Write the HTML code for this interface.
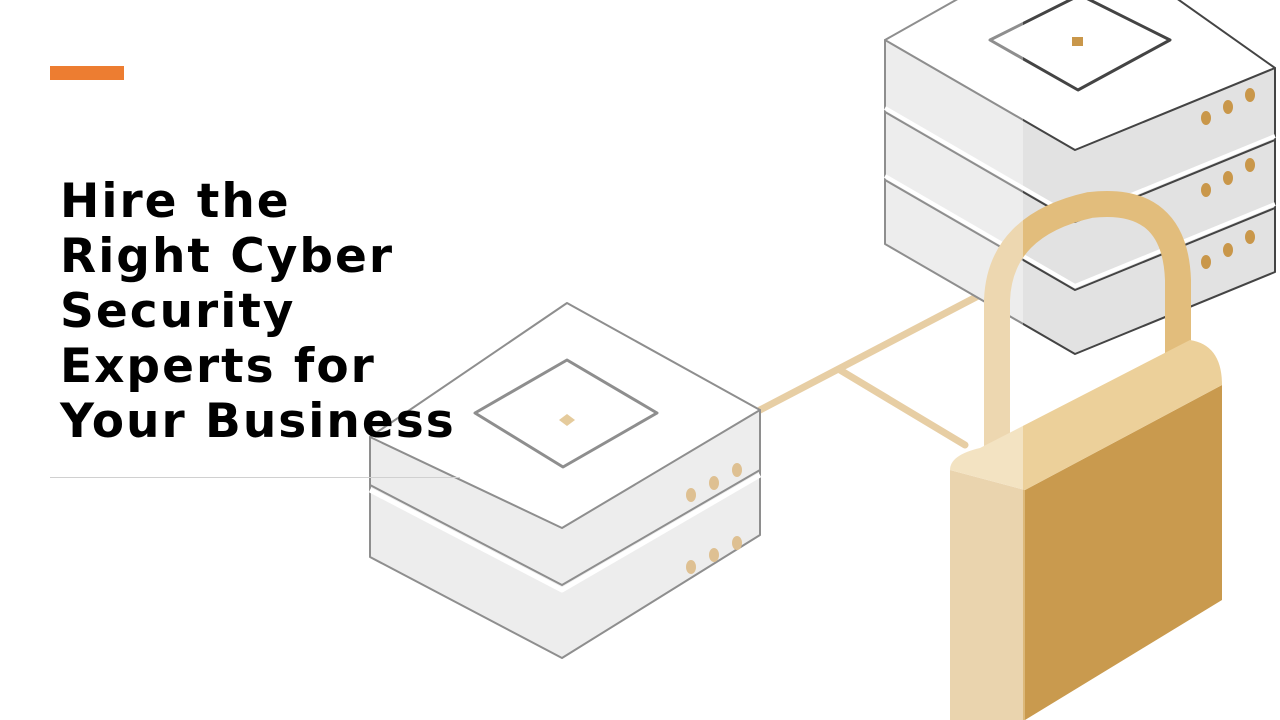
<!DOCTYPE html>
<html><head><style>
html,body{margin:0;padding:0;width:1280px;height:720px;overflow:hidden;background:#fff}
svg{position:absolute;left:0;top:0}
.t{position:absolute;left:60px;top:174px;font-family:"DejaVu Sans","Liberation Sans",sans-serif;font-weight:bold;font-size:47px;letter-spacing:2px;line-height:55px;color:#000;margin:0}
.bar{position:absolute;left:50px;top:66px;width:74px;height:14px;background:#ed7d31}
.rule{position:absolute;left:50px;top:477px;width:410px;height:1px;background:#d0d0d0}
</style></head><body>
<svg width="1280" height="720" viewBox="0 0 1280 720">
<g stroke="#444" stroke-width="2" stroke-linejoin="round">
<g stroke="#d7ad68" stroke-width="7" fill="none" stroke-linecap="round">
<line x1="760" y1="410" x2="980" y2="295"/>
<line x1="840" y1="370" x2="965" y2="445"/>
</g>
<path d="M885 40 L885 244 L1075 354 L1275 272 L1275 68 Z" fill="#e2e2e2"/>
<path d="M885 108 L1075 218 L1275 136" fill="none" stroke="#fff" stroke-width="4"/>
<path d="M885 112 L1075 222 L1275 140" fill="none"/>
<path d="M885 176 L1075 286 L1275 204" fill="none" stroke="#fff" stroke-width="4"/>
<path d="M885 180 L1075 290 L1275 208" fill="none"/>
<path d="M885 40 L1080 -70 L1275 68 L1075 150 Z" fill="#fff"/>
<path d="M990 40 L1080 -5 L1170 40 L1078 90 Z" fill="#fff" stroke-width="3"/>
<rect x="1072" y="37" width="11" height="9" fill="#c9974a" stroke="none"/>
<path d="M370 437 L370 557 L562 658 L760 535 L760 410 Z" fill="#e2e2e2"/>
<path d="M370 490 L562 590 L760 475" fill="none" stroke="#fff" stroke-width="5"/>
<path d="M370 485 L562 585 L760 470" fill="none"/>
<path d="M370 437 L567 303 L760 410 L562 528 Z" fill="#fff"/>
<path d="M475 413 L567 360 L657 413 L563 467 Z" fill="#fff" stroke-width="3"/>
<path d="M567 414 L575 420 L567 426 L559 420 Z" fill="#d4a85a" stroke="none"/>
</g>
<g fill="#c9974a">
<ellipse cx="691" cy="495" rx="5" ry="7"/><ellipse cx="714" cy="483" rx="5" ry="7"/><ellipse cx="737" cy="470" rx="5" ry="7"/>
<ellipse cx="691" cy="567" rx="5" ry="7"/><ellipse cx="714" cy="555" rx="5" ry="7"/><ellipse cx="737" cy="543" rx="5" ry="7"/>
<ellipse cx="1206" cy="118" rx="5" ry="7"/><ellipse cx="1228" cy="107" rx="5" ry="7"/><ellipse cx="1250" cy="95" rx="5" ry="7"/>
<ellipse cx="1206" cy="190" rx="5" ry="7"/><ellipse cx="1228" cy="178" rx="5" ry="7"/><ellipse cx="1250" cy="165" rx="5" ry="7"/>
<ellipse cx="1206" cy="262" rx="5" ry="7"/><ellipse cx="1228" cy="250" rx="5" ry="7"/><ellipse cx="1250" cy="237" rx="5" ry="7"/>
</g>
<path d="M997 465 L997 300 Q1000 225 1090 205 Q1175 195 1178 280 L1178 365" fill="none" stroke="#e2bd7c" stroke-width="26" stroke-linecap="round"/>
<path d="M950 470 L1025 490 L1025 720 L950 720 Z" fill="#dcb879"/>
<path d="M1025 490 L1222 385 L1222 600 L1025 720 Z" fill="#c99a4e"/>
<path d="M950 470 Q950 455 980 448 L1190 340 Q1222 345 1222 385 L1025 490 Z" fill="#ecd09a"/>
<rect x="0" y="0" width="1023" height="720" fill="#fff" opacity="0.4"/>
</svg>
<div class="bar"></div>
<div class="t">Hire the<br>Right Cyber<br>Security<br>Experts for<br>Your Business</div>
<div class="rule"></div>
</body></html>
